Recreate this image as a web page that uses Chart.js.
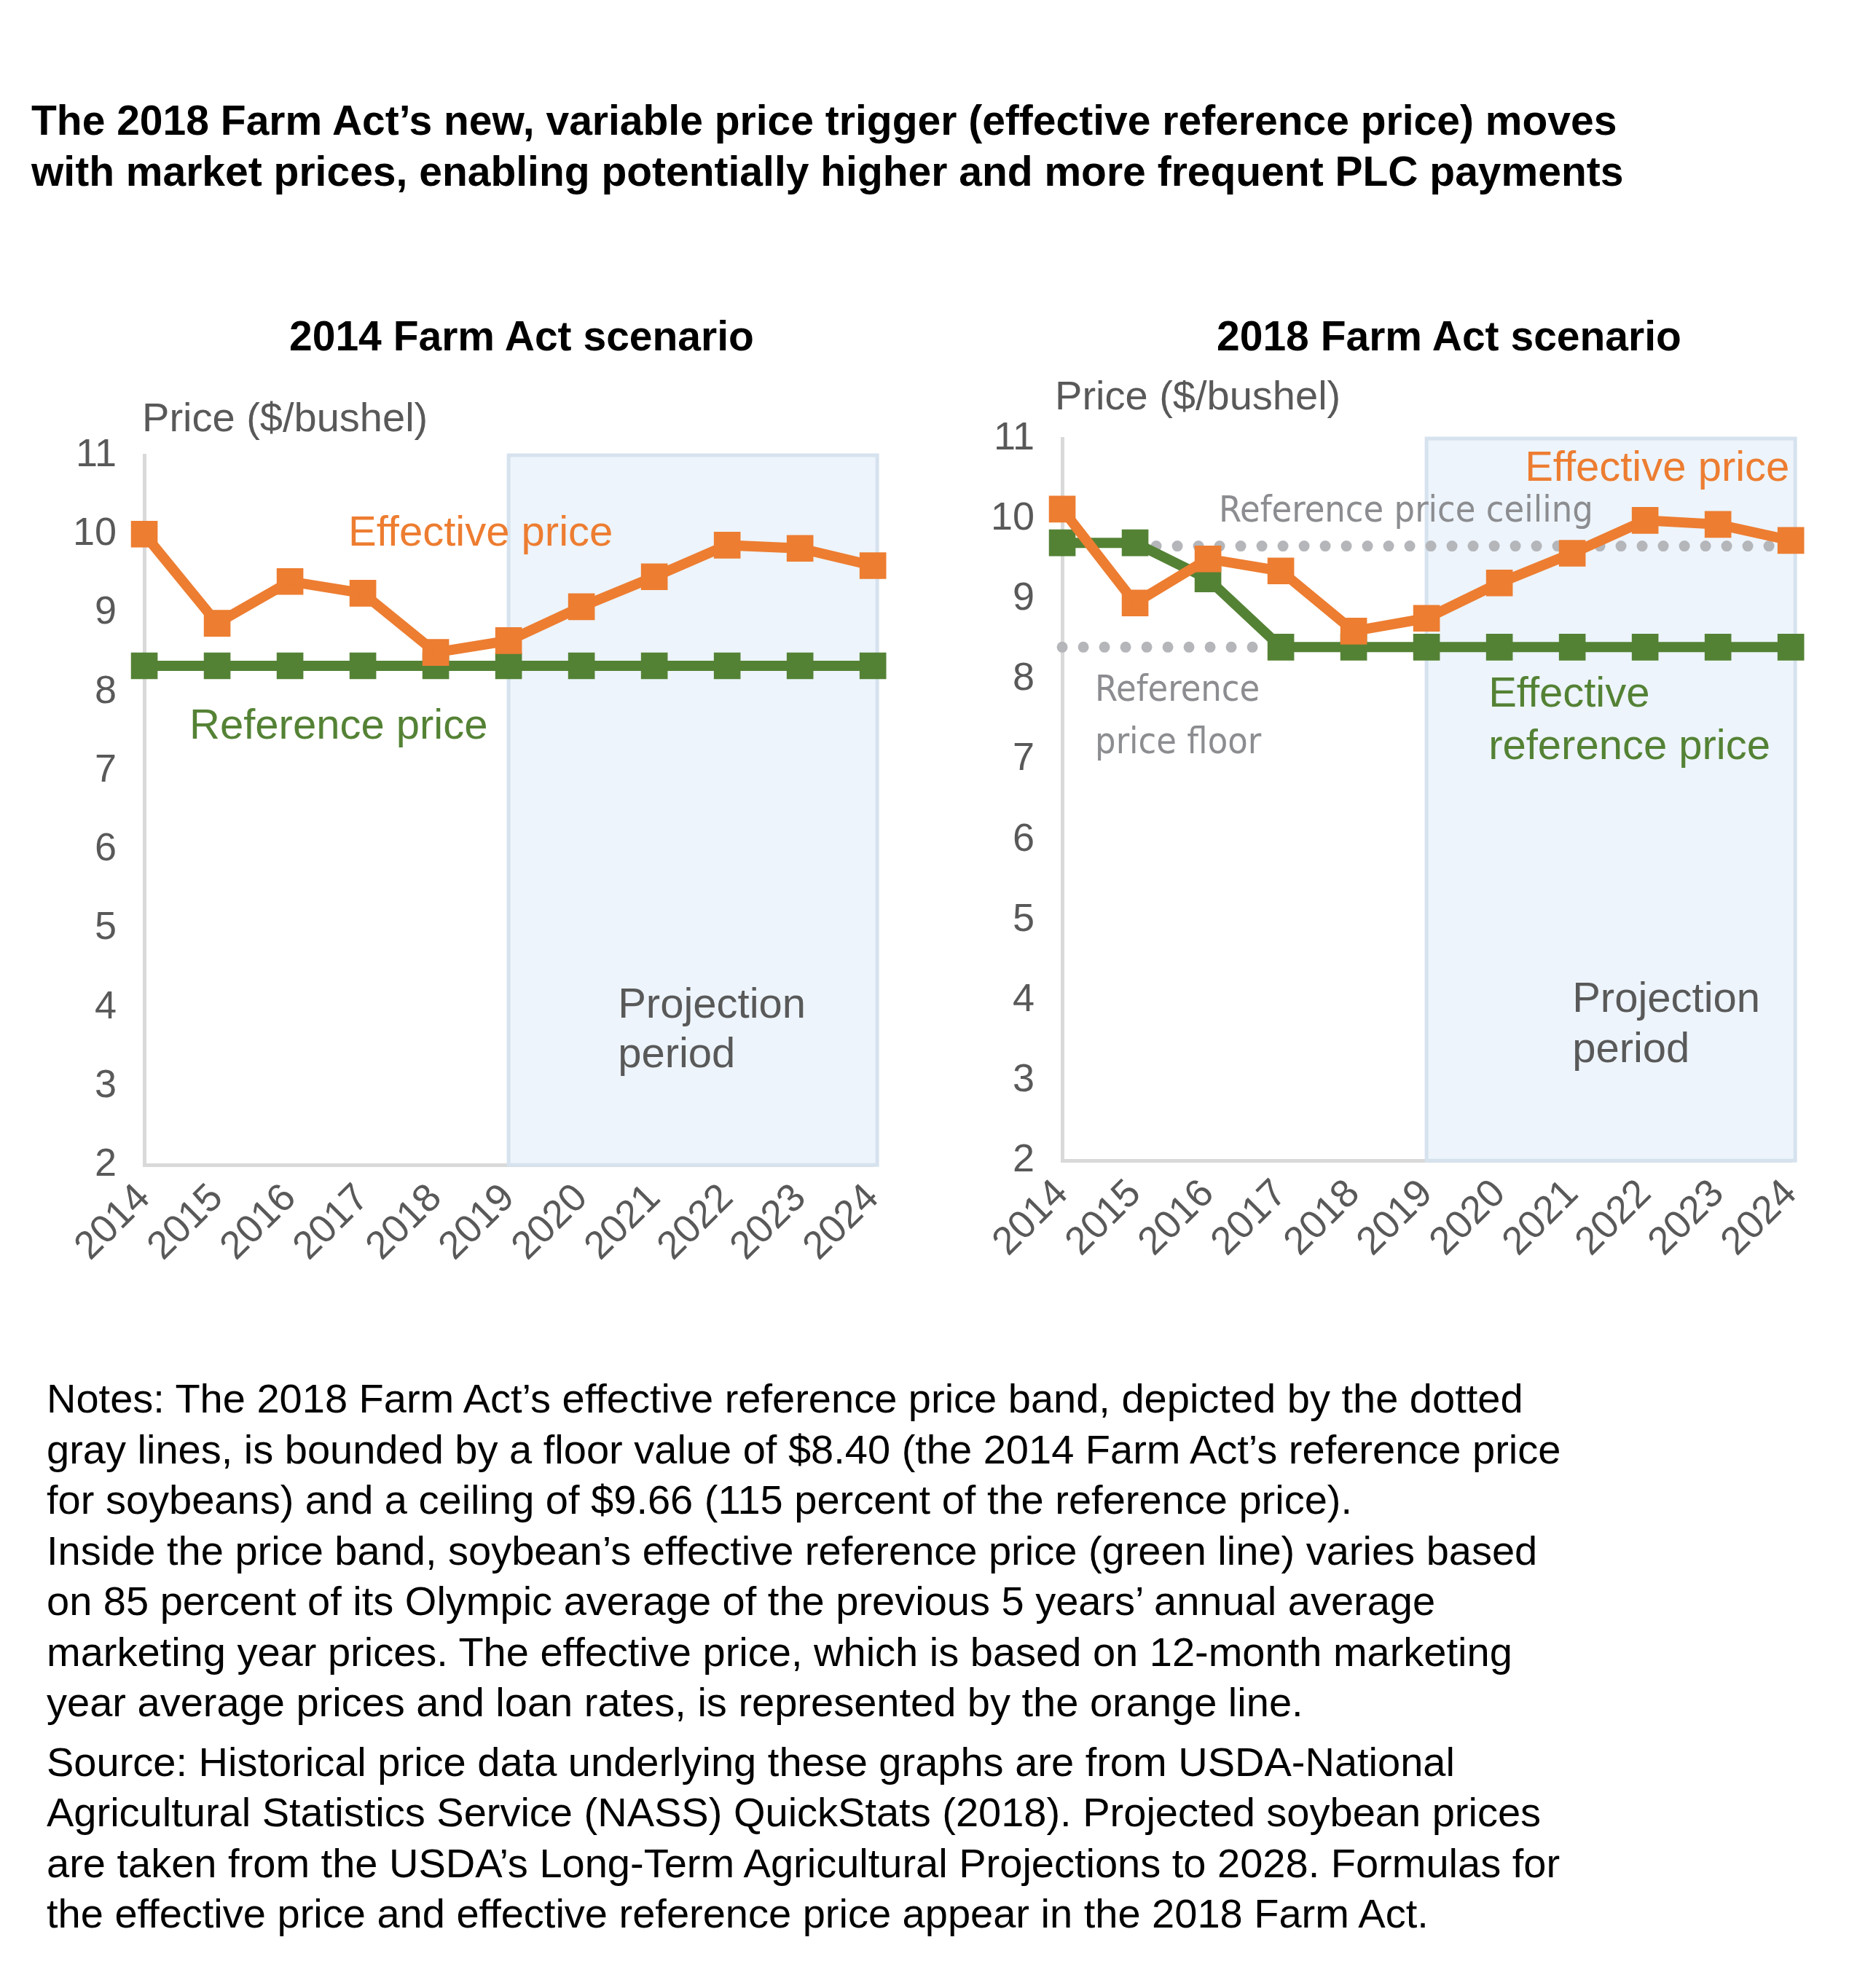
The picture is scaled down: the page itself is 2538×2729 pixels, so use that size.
<!DOCTYPE html>
<html><head><meta charset="utf-8">
<script src="https://cdn.jsdelivr.net/npm/chart.js@4"></script>
<style>
body{margin:0;background:#fff;font-family:"Liberation Sans",Arial,sans-serif;width:2538px;height:2729px;position:relative;overflow:hidden}
.t{position:absolute;left:43px;top:130px;font-weight:bold;font-size:57px;line-height:70px;color:#000}
.st{position:absolute;font-weight:bold;font-size:57px;color:#000;top:428px}
.box{position:absolute}
.notes{position:absolute;left:64px;top:1885px;font-size:56px;line-height:69.5px;color:#000}
</style></head><body>
<div class="t">The 2018 Farm Act’s new, variable price trigger (effective reference price) moves<br>with market prices, enabling potentially higher and more frequent PLC payments</div>
<div class="st" style="left:397px">2014 Farm Act scenario</div>
<div class="st" style="left:1670px">2018 Farm Act scenario</div>
<div class="box" style="left:70px;top:545px;width:1180px;height:1205px"><canvas id="c1"></canvas></div>
<div class="box" style="left:1330px;top:522px;width:1180px;height:1222px"><canvas id="c2"></canvas></div>
<div class="notes">Notes: The 2018 Farm Act’s effective reference price band, depicted by the dotted<br>gray lines, is bounded by a floor value of $8.40 (the 2014 Farm Act’s reference price<br>for soybeans) and a ceiling of $9.66 (115 percent of the reference price).<br>Inside the price band, soybean’s effective reference price (green line) varies based<br>on 85 percent of its Olympic average of the previous 5 years’ annual average<br>marketing year prices. The effective price, which is based on 12-month marketing<br>year average prices and loan rates, is represented by the orange line.
<div style="height:12px"></div>Source: Historical price data underlying these graphs are from USDA-National<br>Agricultural Statistics Service (NASS) QuickStats (2018). Projected soybean prices<br>are taken from the USDA’s Long-Term Agricultural Projections to 2028. Formulas for<br>the effective price and effective reference price appear in the 2018 Farm Act.</div>
<script>
var years = ["2014","2015","2016","2017","2018","2019","2020","2021","2022","2023","2024"];
var effective2014 = [10.0, 8.87, 9.4, 9.25, 8.5, 8.65, 9.08, 9.46, 9.86, 9.82, 9.6];
var reference2014 = [8.33, 8.33, 8.33, 8.33, 8.33, 8.33, 8.33, 8.33, 8.33, 8.33, 8.33];
var effective2018 = [10.12, 8.95, 9.5, 9.35, 8.6, 8.76, 9.2, 9.57, 9.98, 9.93, 9.73];
var effRef2018 = [9.7, 9.7, 9.25, 8.4, 8.4, 8.4, 8.4, 8.4, 8.4, 8.4, 8.4];
var ceiling = [null, 9.66, 9.66, 9.66, 9.66, 9.66, 9.66, 9.66, 9.66, 9.66, 9.66];
var floorLine = [8.4, 8.4, 8.4, 8.4, null, null, null, null, null, null, null];

var ORANGE = '#ED7D31', GREEN = '#548235', GRAY = '#595959';
var LBL = '58px "Liberation Sans", Arial, sans-serif';
var NARROW = '50px "Liberation Sans Narrow", "DejaVu Sans Condensed", Arial';

function lineSet(data, color, order) {
  return {data: data, borderColor: color, backgroundColor: color, borderWidth: 14,
    pointStyle: 'rect', pointRadius: 16, pointHoverRadius: 16, order: order, clip: false};
}
function dotSet(data) {
  return {data: data, borderColor: '#b4b6ba', borderWidth: 15, borderDash: [0, 29],
    borderCapStyle: 'round', pointRadius: 0, order: 5, clip: false};
}

// projection box and text labels
function makeDeco(labels) {
  return {
    id: 'deco',
    beforeDatasetsDraw: function(chart) {
      var c = chart.ctx, x = chart.scales.x, y = chart.scales.y;
      var x0 = x.getPixelForValue(5), x1 = x.getPixelForValue(10) + 6;
      var y0 = y.getPixelForValue(11), y1 = y.getPixelForValue(2);
      c.save();
      c.fillStyle = '#edf4fb';
      c.fillRect(x0, y0, x1 - x0, y1 - y0);
      c.strokeStyle = '#d6e2ee'; c.lineWidth = 5;
      c.strokeRect(x0, y0, x1 - x0, y1 - y0);
      c.restore();
    },
    afterDatasetsDraw: function(chart) {
      var c = chart.ctx, x = chart.scales.x, y = chart.scales.y;
      c.save();
      c.textBaseline = 'middle';
      labels.forEach(function(l) {
        c.fillStyle = l.color;
        c.font = l.font || LBL;
        l.text.forEach(function(t, i) {
          c.fillText(t, x.getPixelForValue(l.x), y.getPixelForValue(l.y - i * l.lh));
        });
      });
      c.restore();
    }
  };
}

function makeChart(id, datasets, labels) {
  return new Chart(document.getElementById(id), {
    type: 'line',
    data: {labels: years, datasets: datasets},
    plugins: [makeDeco(labels)],
    options: {
      responsive: true, maintainAspectRatio: false, animation: false,
      layout: {padding: {top: 80, right: 20, left: 0, bottom: 0}},
      plugins: {legend: {display: false}, tooltip: {enabled: false}},
      scales: {
        x: {offset: false, grid: {display: false},
          border: {color: '#d9d9d9', width: 5},
          ticks: {color: GRAY, font: {size: 54, family: '"Liberation Sans", Arial'}, maxRotation: 45, minRotation: 45, padding: 6}},
        y: {min: 2, max: 11, grid: {display: false},
          border: {color: '#d9d9d9', width: 5},
          ticks: {stepSize: 1, color: GRAY, font: {size: 54, family: '"Liberation Sans", Arial'}, padding: 30}}
      }
    }
  });
}

makeChart('c1', [lineSet(effective2014, ORANGE, 1), lineSet(reference2014, GREEN, 2)], [
  {x: -0.03, y: 11.45, lh: 0, text: ['Price ($/bushel)'], color: GRAY, font: '56px "Liberation Sans", Arial'},
  {x: 2.8, y: 10.0, lh: 0, text: ['Effective price'], color: ORANGE},
  {x: 0.62, y: 7.55, lh: 0, text: ['Reference price'], color: GREEN},
  {x: 6.5, y: 4.02, lh: 0.63, text: ['Projection', 'period'], color: GRAY}
]);

makeChart('c2', [lineSet(effective2018, ORANGE, 1), lineSet(effRef2018, GREEN, 2), dotSet(ceiling), dotSet(floorLine)], [
  {x: -0.1, y: 11.5, lh: 0, text: ['Price ($/bushel)'], color: GRAY, font: '56px "Liberation Sans", Arial'},
  {x: 6.35, y: 10.62, lh: 0, text: ['Effective price'], color: ORANGE},
  {x: 2.15, y: 10.08, lh: 0, text: ['Reference price ceiling'], color: '#8c8d90', font: NARROW},
  {x: 0.45, y: 7.85, lh: 0.65, text: ['Reference', 'price floor'], color: '#8c8d90', font: NARROW},
  {x: 5.85, y: 7.8, lh: 0.65, text: ['Effective', 'reference price'], color: GREEN},
  {x: 7.0, y: 4.0, lh: 0.63, text: ['Projection', 'period'], color: GRAY}
]);
</script>
</body></html>
